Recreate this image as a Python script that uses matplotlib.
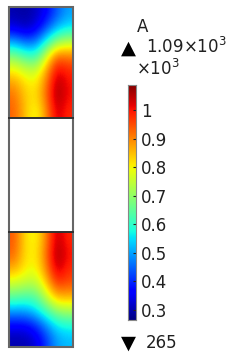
import numpy as np
import matplotlib
matplotlib.use("Agg")
import matplotlib.pyplot as plt
from matplotlib.patches import Rectangle

plt.rcParams['mathtext.default'] = 'regular'

# Field values (x10^3), rows top->bottom, cols left->right
top_section = np.array([
    [0.30, 0.29, 0.31, 0.36, 0.44, 0.50],
    [0.34, 0.31, 0.34, 0.43, 0.52, 0.56],
    [0.50, 0.45, 0.46, 0.58, 0.70, 0.74],
    [0.68, 0.62, 0.60, 0.76, 0.92, 0.90],
    [0.80, 0.76, 0.74, 0.86, 1.02, 0.98],
    [0.88, 0.82, 0.80, 0.91, 1.06, 1.00],
    [0.92, 0.84, 0.81, 0.92, 1.07, 1.00],
    [0.93, 0.85, 0.78, 0.89, 1.04, 0.98],
])
bottom_section = np.array([
    [0.94, 0.82, 0.79, 0.90, 1.05, 0.98],
    [0.93, 0.82, 0.80, 0.92, 1.07, 1.00],
    [0.87, 0.81, 0.79, 0.90, 1.05, 0.98],
    [0.77, 0.75, 0.74, 0.84, 0.98, 0.95],
    [0.65, 0.63, 0.64, 0.75, 0.86, 0.86],
    [0.50, 0.50, 0.54, 0.62, 0.70, 0.72],
    [0.36, 0.36, 0.40, 0.48, 0.56, 0.58],
    [0.30, 0.30, 0.33, 0.41, 0.50, 0.52],
])
vmin, vmax = 0.265, 1.09
cbar_ticks = [0.3, 0.4, 0.5, 0.6, 0.7, 0.8, 0.9, 1.0]
cbar_ticklabels = ['0.3', '0.4', '0.5', '0.6', '0.7', '0.8', '0.9', '1']
max_label = r'1.09$\times10^{3}$'
min_label = '265'
unit_label = 'A'

W, H = 240, 357
fig = plt.figure(figsize=(W/100, H/100), dpi=100)

def fx(px): return px / W
def fy(py): return 1 - py / H

# main domain axes (pixel units inside)
left, right, top, bottom = 9, 73, 7, 347
ax = fig.add_axes([fx(left), fy(bottom), fx(right-left), (bottom-top)/H])
ax.set_xlim(0, 1)
ax.set_ylim(0, 340)
ax.axis('off')

y_bot_top = 115   # bottom section top
y_top_bot = 229   # top section bottom

ax.imshow(top_section, cmap='jet', vmin=vmin, vmax=vmax, interpolation='bicubic',
          extent=[0, 1, y_top_bot, 340], aspect='auto')
ax.imshow(bottom_section, cmap='jet', vmin=vmin, vmax=vmax, interpolation='bicubic',
          extent=[0, 1, 0, y_bot_top], aspect='auto')
ax.set_xlim(0, 1)
ax.set_ylim(0, 340)

ax.add_patch(Rectangle((0, 0), 1, 340, fill=False, edgecolor='#666666', lw=1.5, clip_on=False))
ax.plot([0, 1], [y_bot_top, y_bot_top], color='#303030', lw=1.4, clip_on=False)
ax.plot([0, 1], [y_top_bot, y_top_bot], color='#303030', lw=1.4, clip_on=False)

# colorbar
cb_l, cb_r, cb_t, cb_b = 127.5, 135.5, 84.5, 320
cax = fig.add_axes([fx(cb_l), fy(cb_b), fx(cb_r-cb_l), (cb_b-cb_t)/H])
grad = np.linspace(vmin, vmax, 256).reshape(-1, 1)
cax.imshow(grad, cmap='jet', vmin=vmin, vmax=vmax, origin='lower', aspect='auto',
           extent=[0, 1, vmin, vmax])
cax.set_xlim(0, 1)
cax.set_ylim(vmin, vmax)
cax.set_xticks([])
cax.yaxis.tick_right()
cax.set_yticks(cbar_ticks)
cax.set_yticklabels(cbar_ticklabels)
cax.tick_params(axis='y', direction='in', length=2, width=0.8, color='#202020',
                labelsize=12, pad=4, labelcolor='#202020')
for s in cax.spines.values():
    s.set_color('#888888')
    s.set_linewidth(0.8)

fig.text(fx(136.5), fy(32), unit_label, fontsize=12, color='#202020', ha='left', va='baseline')
fig.text(fx(120.5), fy(53.5), '▲', fontsize=14, color='black', ha='left', va='baseline')
fig.text(fx(146), fy(53), max_label, fontsize=12, color='#202020', ha='left', va='baseline')
fig.text(fx(136.5), fy(75), r'$\times10^{3}$', fontsize=12, color='#202020', ha='left', va='baseline')
fig.text(fx(120.5), fy(348.5), '▼', fontsize=14, color='black', ha='left', va='baseline')
fig.text(fx(146), fy(348), min_label, fontsize=12, color='#202020', ha='left', va='baseline')

fig.savefig('out.png', dpi=100)
